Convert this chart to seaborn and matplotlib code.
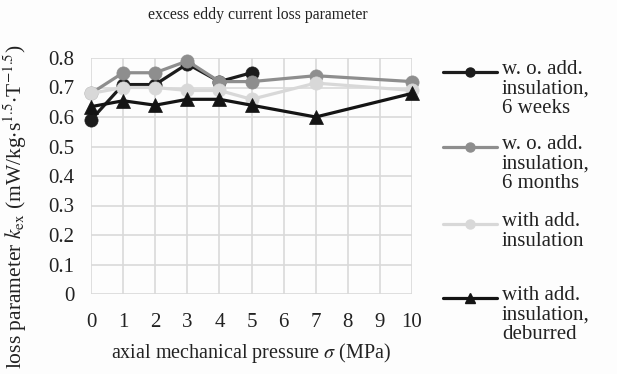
import matplotlib
matplotlib.use("Agg")
import matplotlib.pyplot as plt
import seaborn as sns
import pandas as pd
from matplotlib.lines import Line2D

pressure = [0, 1, 2, 3, 4, 5, 7, 10]
weeks6 = [0.59, 0.71, 0.71, 0.78, 0.72, 0.75]
months6 = [0.68, 0.75, 0.75, 0.79, 0.72, 0.72, 0.74, 0.72]
with_ins = [0.68, 0.70, 0.70, 0.69, 0.69, 0.66, 0.715, 0.69]
deburred = [0.635, 0.655, 0.64, 0.66, 0.66, 0.64, 0.60, 0.68]

labels = ["w. o. add.\ninsulation,\n6 weeks",
          "w. o. add.\ninsulation,\n6 months",
          "with add.\ninsulation",
          "with add.\ninsulation,\ndeburred"]
series = [weeks6, months6, with_ins, deburred]
colors = ["#1c1c1c", "#8e8e8e", "#d8d8d8", "#141414"]
markers = ["o", "o", "o", "^"]
xticks = list(range(0, 11))
yticks = [0, 0.1, 0.2, 0.3, 0.4, 0.5, 0.6, 0.7, 0.8]

sns.set_theme(style="white")
plt.rcParams["font.family"] = ["Liberation Serif", "DejaVu Serif"]
plt.rcParams["mathtext.fontset"] = "stix"

fig = plt.figure(figsize=(6.17, 3.74), dpi=100, facecolor="#fdfdfd")
W, H = 617, 374
ax = fig.add_axes([91 / W, 1 - 294 / H, (412 - 91) / W, (294 - 58) / H])
ax.set_facecolor("#fdfdfd")

rows = []
for lab, vals in zip(labels, series):
    for x, v in zip(pressure, vals):
        rows.append({"x": x, "y": v, "s": lab})
df = pd.DataFrame(rows)

for lab, c, m in zip(labels, colors, markers):
    sub = df[df["s"] == lab]
    sns.lineplot(data=sub, x="x", y="y", ax=ax, color=c, marker=m,
                 markersize=9.5, linewidth=2.3, markeredgecolor=c,
                 markeredgewidth=0.5, legend=False, clip_on=False, zorder=3)

ax.set_xlim(0, 10)
ax.set_ylim(0, 0.8)
ax.set_xticks(xticks)
ax.set_yticks(yticks)
ax.set_yticklabels(["0", "0.1", "0.2", "0.3", "0.4", "0.5", "0.6", "0.7", "0.8"])
ax.grid(True, color="#d9d9d9", linewidth=1.2)
ax.set_axisbelow(True)
for sp in ax.spines.values():
    sp.set_visible(False)
ax.tick_params(axis="x", length=0, pad=14, labelsize=15, colors="#222222")
ax.tick_params(axis="y", length=0, pad=12, labelsize=15, colors="#222222")

ax.set_xlabel(r"axial mechanical pressure $\sigma$ (MPa)", fontsize=14.5,
              color="#222222", labelpad=6)
ax.set_ylabel("")
fig.text(15 / W, 1 - 207 / H,
         r"loss parameter $k_{\mathrm{ex}}$ (mW/kg$\cdot$s$^{1.5}$$\cdot$T$^{\mathrm{-1.5}}$)",
         rotation=90, ha="center", va="center", fontsize=15.5, color="#222222")

fig.text(258 / W, 1 - 15 / H, "excess eddy current loss parameter",
         ha="center", va="center", fontsize=11.3, color="#222222")

# legend drawn manually (handles aligned with first line of each label)
leg_y = [72, 147, 224, 298]
for lab, c, m, yy in zip(labels, colors, markers, leg_y):
    yf = 1 - yy / H
    fig.add_artist(Line2D([443 / W, 497 / W], [yf, yf], transform=fig.transFigure,
                          color=c, linewidth=2.3))
    fig.add_artist(Line2D([470 / W], [yf], transform=fig.transFigure, color=c,
                          marker=m, markersize=6.5, markeredgecolor=c, linestyle="none"))
    fig.text(502 / W, 1 - (yy - 12) / H, lab, ha="left", va="top",
             fontsize=15, color="#222222", linespacing=1.05)

fig.savefig("out.png", dpi=100, facecolor=fig.get_facecolor())
